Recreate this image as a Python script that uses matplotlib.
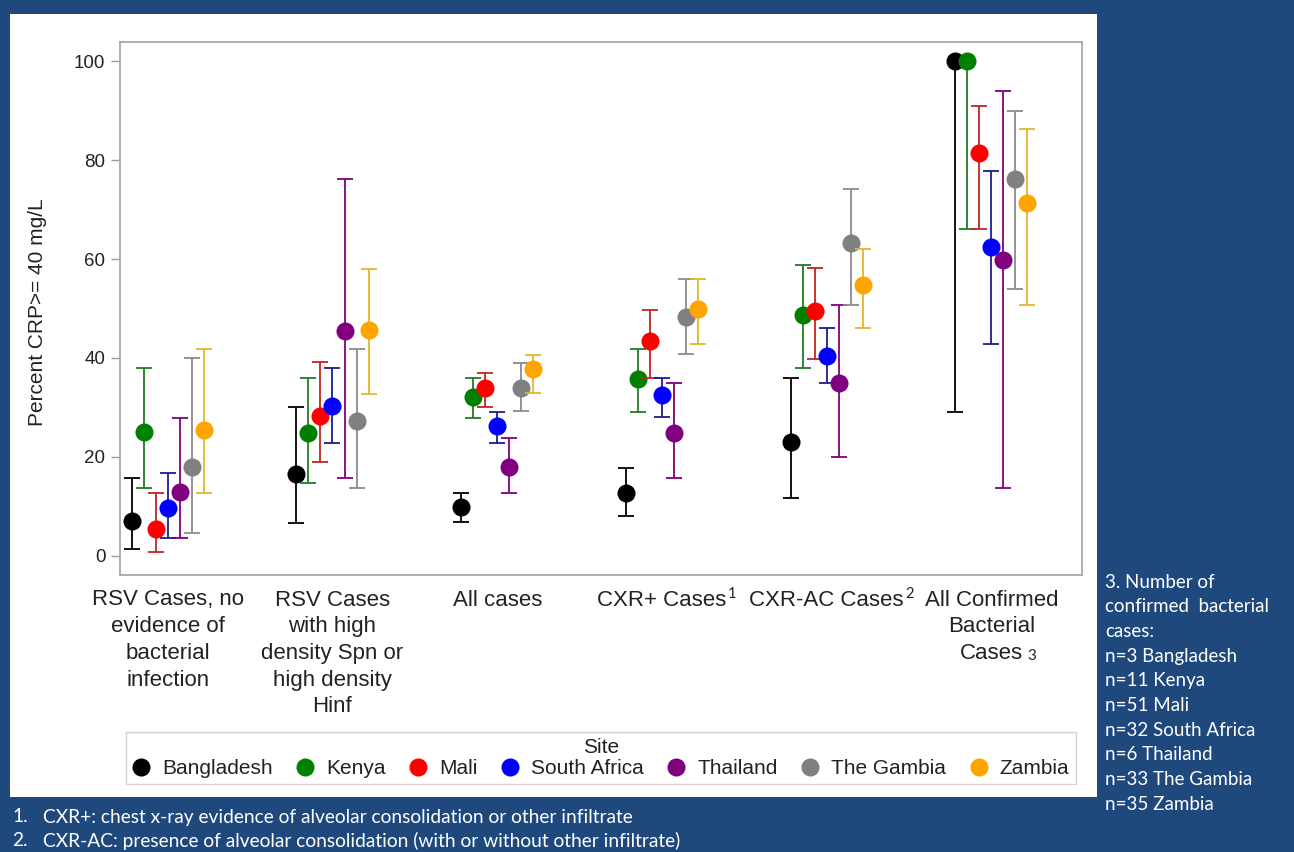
import matplotlib
matplotlib.use("Agg")
import matplotlib.pyplot as plt
from matplotlib.patches import Rectangle
from matplotlib.lines import Line2D
from matplotlib.transforms import blended_transform_factory
import numpy as np

# ---------------- data ----------------
categories = [
    "RSV Cases, no\nevidence of\nbacterial\ninfection",
    "RSV Cases\nwith high\ndensity Spn or\nhigh density\nHinf",
    "All cases",
    "CXR+ Cases",
    "CXR-AC Cases",
    "All Confirmed\nBacterial\nCases",
]
cat_superscripts = ["", "", "", "1", "2", "3"]

sites = ["Bangladesh", "Kenya", "Mali", "South Africa", "Thailand", "The Gambia", "Zambia"]
marker_colors = ["#000000", "#008000", "#FF0000", "#0000FF", "#800080", "#808080", "#FFA500"]
bar_colors = ["#000000", "#237A23", "#C42424", "#1C1C8E", "#800080", "#8A8A8A", "#E3B52A"]

est_bangladesh = [7.1, 16.6, 9.9, 12.8, 23.1, 100.0]
lo_bangladesh = [1.5, 6.7, 6.9, 8.1, 11.7, 29.0]
hi_bangladesh = [15.8, 30.0, 12.7, 17.8, 35.9, 100.0]

est_kenya = [25.0, 24.9, 32.1, 35.7, 48.7, 100.0]
lo_kenya = [13.8, 14.8, 27.9, 29.0, 37.9, 66.1]
hi_kenya = [38.0, 35.9, 35.9, 41.8, 58.8, 100.0]

est_mali = [5.4, 28.3, 33.9, 43.5, 49.4, 81.4]
lo_mali = [0.9, 19.0, 30.0, 35.9, 39.7, 66.1]
hi_mali = [12.7, 39.1, 36.9, 49.7, 58.1, 91.0]

est_southafrica = [9.6, 30.4, 26.3, 32.5, 40.4, 62.5]
lo_southafrica = [3.7, 22.8, 22.8, 28.0, 34.9, 42.8]
hi_southafrica = [16.8, 38.0, 29.0, 35.9, 46.0, 77.8]

est_thailand = [13.0, 45.4, 18.0, 24.8, 35.0, 59.8]
lo_thailand = [3.7, 15.8, 12.7, 15.8, 20.1, 13.8]
hi_thailand = [27.9, 76.2, 23.8, 34.9, 50.8, 94.0]

est_gambia = [17.9, 27.2, 33.9, 48.3, 63.3, 76.1]
lo_gambia = [4.7, 13.7, 29.2, 40.8, 50.8, 54.0]
hi_gambia = [40.0, 41.8, 38.9, 56.0, 74.1, 90.0]

est_zambia = [25.5, 45.7, 37.7, 49.8, 54.7, 71.3]
lo_zambia = [12.7, 32.8, 32.9, 42.8, 46.0, 50.8]
hi_zambia = [41.8, 58.0, 40.7, 56.0, 62.0, 86.2]

estimates = [est_bangladesh, est_kenya, est_mali, est_southafrica, est_thailand, est_gambia, est_zambia]
lowers = [lo_bangladesh, lo_kenya, lo_mali, lo_southafrica, lo_thailand, lo_gambia, lo_zambia]
uppers = [hi_bangladesh, hi_kenya, hi_mali, hi_southafrica, hi_thailand, hi_gambia, hi_zambia]

yticks = [0, 20, 40, 60, 80, 100]
ylabel = "Percent CRP>= 40 mg/L"
legend_title = "Site"

note_lines = ["3. Number of", "confirmed  bacterial", "cases:", "n=3 Bangladesh", "n=11 Kenya",
              "n=51 Mali", "n=32 South Africa", "n=6 Thailand", "n=33 The Gambia", "n=35 Zambia"]
footnote_nums = ["1.", "2."]
footnote_texts = ["CXR+: chest x-ray evidence of alveolar consolidation or other infiltrate",
                  "CXR-AC: presence of alveolar consolidation (with or without other infiltrate)"]

# ---------------- figure ----------------
W, H = 1294, 852
BG = "#1F497D"
plt.rcParams["font.family"] = ["Liberation Sans", "DejaVu Sans"]
fig = plt.figure(figsize=(W / 100, H / 100), dpi=100, facecolor=BG)

panel = Rectangle((10 / W, 1 - 797 / H), 1087 / W, 783 / H, transform=fig.transFigure,
                  facecolor="white", edgecolor="none", zorder=-5)
fig.patches.append(panel)

ax = fig.add_axes([120 / W, 1 - 575 / H, 962 / W, 533 / H])
ax.set_facecolor("white")

step = 0.073
x = np.arange(len(categories))
for k, site in enumerate(sites):
    xs = x + (k - 3) * step
    est = np.array(estimates[k])
    lo = np.array(lowers[k])
    hi = np.array(uppers[k])
    ax.errorbar(xs, est, yerr=[est - lo, hi - est], fmt="none", ecolor=bar_colors[k],
                elinewidth=1.3, capsize=6, capthick=1.3, zorder=2 + 2 * k)
    ax.plot(xs, est, "o", color=marker_colors[k], markersize=13, markeredgewidth=0,
            zorder=3 + 2 * k)

ax.set_xlim(-0.29, 5.55)
ax.set_ylim(-3.84, 103.84)
ax.set_yticks(yticks)
ax.set_yticklabels([str(t) for t in yticks], fontsize=13.5, color="#222222")
ax.set_xticks([])
ax.tick_params(axis="y", length=6.5, width=1, color="#9A9A9A", pad=4)
for sp in ax.spines.values():
    sp.set_color("#A8A8A8")
    sp.set_linewidth(1.3)

fig.text(38 / W, 1 - 312 / H, ylabel, rotation=90, ha="center", va="center",
         fontsize=15, color="#222222")

# category labels: one text per line, centred on the category
trans = blended_transform_factory(ax.transData, fig.transFigure)
line_pitch = 26.7
first_center = 600
fig.canvas.draw()
renderer = fig.canvas.get_renderer()
for i, lab in enumerate(categories):
    lines = lab.split("\n")
    last = None
    for j, ln in enumerate(lines):
        yc = first_center + j * line_pitch
        last = ax.text(i, 1 - yc / H, ln, transform=trans, ha="center", va="center",
                       fontsize=16, color="#222222")
    sup = cat_superscripts[i]
    if not sup:
        continue
    bb = last.get_window_extent(renderer)
    if len(lines) > 1:
        fig.text((bb.x1 + 4) / W, (bb.y0 + 8) / H, sup, ha="left", va="center",
                 fontsize=11, color="#222222", family=["Lato", "DejaVu Sans"])
    else:
        fig.text((bb.x1 + 1) / W, (bb.y1 - 5) / H, sup, ha="left", va="center",
                 fontsize=10.5, color="#222222", family=["Lato", "DejaVu Sans"])

# legend
handles = [Line2D([], [], marker="o", linestyle="none", color=c, markersize=13,
                  markeredgewidth=0) for c in marker_colors]
leg = fig.legend(handles, sites, loc="center", bbox_to_anchor=(601 / W, 1 - 758 / H),
                 ncol=7, fontsize=15, title=legend_title, title_fontsize=15,
                 frameon=True, fancybox=False, edgecolor="#C8C8C8", borderpad=0.3,
                 labelspacing=0.1, handlelength=0.8, handletextpad=0.62,
                 columnspacing=1.15, borderaxespad=0)
leg.get_frame().set_linewidth(1.0)
for txt in leg.get_texts():
    txt.set_color("#222222")
leg.get_title().set_color("#222222")

# right side note
for j, line in enumerate(note_lines):
    fig.text(1105 / W, 1 - (582 + j * 24.7) / H, line, ha="left", va="center",
             fontsize=13.5, color="white", family=["Lato", "DejaVu Sans"])

# footnotes
for j in range(2):
    yy = 1 - (817 + j * 24) / H
    fig.text(12 / W, yy, footnote_nums[j], ha="left", va="center", fontsize=13.8,
             color="white", family=["Lato", "DejaVu Sans"])
    fig.text(43 / W, yy, footnote_texts[j], ha="left", va="center", fontsize=13.8,
             color="white", family=["Lato", "DejaVu Sans"])

fig.savefig("out.png", dpi=100, facecolor=BG)
